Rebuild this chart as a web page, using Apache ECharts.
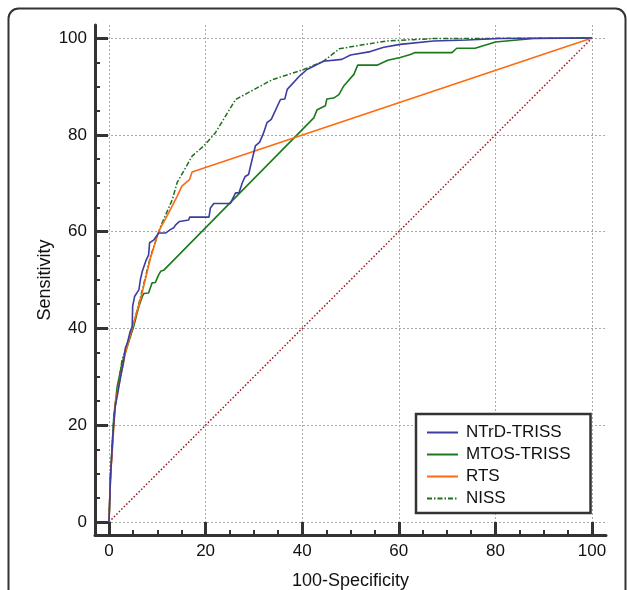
<!DOCTYPE html>
<html>
<head>
<meta charset="utf-8">
<script src="https://cdn.jsdelivr.net/npm/echarts@6/dist/echarts.min.js"></script>
<style>html,body{margin:0;padding:0;background:#fff}#c{width:627px;height:590px}</style>
</head>
<body>
<div id="c"></div>
<script>
const seriesNames = ['NTrD-TRISS', 'MTOS-TRISS', 'RTS', 'NISS'];
const majorTicks = [0, 20, 40, 60, 80, 100];
const minorTicks = [5, 10, 15, 25, 30, 35, 45, 50, 55, 65, 70, 75, 85, 90, 95];

const ntrdX = [0,0.3,0.8,1.3,1.7,2.4,3.0,3.4,3.8,4.4,4.8,4.9,5.3,6.2,6.5,6.9,7.6,8.2,8.4,9.3,10.3,11.7,12.7,13.4,13.8,14.6,16.5,16.7,20.7,21.0,21.7,25.1,26.2,26.9,27.6,28.2,28.9,29.3,30.3,31.2,32.0,32.7,33.6,35.5,36.4,36.9,39.6,41.0,44.4,48.2,50.0,54.1,56.9,60.3,67.2,74.1,81.0,100];
const ntrdY = [0,9,18,24,26,30,33,36,37,39.4,40.4,44.6,46.6,48,50.1,51.8,53.9,55.2,57.7,58.3,59.7,59.7,60.4,60.8,61.4,62.1,62.4,63.0,63.0,64.9,65.8,65.8,68.0,68.0,70.1,71.4,71.8,73.5,77.7,78.5,80.4,82.5,83.2,87.3,87.4,89.4,92.3,93.5,95.2,95.6,96.5,97.2,98.1,98.7,99.4,99.6,99.9,100];

const mtosX = [0,0.3,1.0,1.7,2.7,3.8,5.1,6.2,6.9,7.2,8.2,8.9,9.6,10.3,10.7,11.3,42.4,43.1,44.8,45.1,46.5,47.6,48.6,50.7,51.5,55.5,57.7,60.3,62.4,63.4,71.0,72.0,75.8,80.0,87.9,100];
const mtosY = [0,9,21.8,28,32.8,36.3,40.4,44.6,46.6,47.2,47.3,49.4,49.5,51.1,51.8,52.0,83.5,85.2,86.0,87.4,87.6,88.3,90.1,92.5,94.4,94.4,95.4,96.0,96.6,97.0,97.0,97.9,97.9,99.2,99.9,100];

const rtsX = [0,0.3,0.7,1.3,2.4,3.4,4.8,6.5,8.6,10.3,12.0,14.1,15.1,16.7,17.2,100];
const rtsY = [0,9.4,14.9,24.6,30.1,34.9,40.1,45.9,54.6,60.1,63.2,67.3,69.4,70.8,72.3,100];

const nissX = [0,0.3,1.0,2.7,4.8,6.9,8.6,10.7,13.1,14.1,17.2,19.6,22.0,26.2,33.8,40.3,44.4,47.7,51.9,57.5,67.2,100];
const nissY = [0,10,21.8,33.5,39.7,48,54.9,61.1,66.6,70.1,75.6,77.7,80.4,87.3,91.4,93.5,95.2,97.8,98.5,99.4,99.9,100];

const diagX = [0, 100];
const diagY = [0, 100];

function pairs(xs, ys) { return xs.map((x, i) => [x, ys[i]]); }

const FONT = '"Liberation Sans", Arial, Helvetica, sans-serif';
const AX = '#333';
const colors = {ntrd: '#3d3da0', mtos: '#1a7a1a', rts: '#ff6a10', niss: '#1d701d', diag: '#a0161a'};

const chart = echarts.init(document.getElementById('c'), null, {renderer: 'canvas'});

const xMin = -2.9, xMax = 102.9, yMin = -2.7, yMax = 102.7;

chart.setOption({
  animation: false,
  backgroundColor: '#fff',
  textStyle: {fontFamily: FONT},
  graphic: [{
    type: 'rect', left: 6, top: 6, z: -10, silent: true,
    shape: {width: 617, height: 700, r: 10},
    style: {fill: 'none', stroke: '#333', lineWidth: 2}
  }],
  grid: {left: 95, right: 21, top: 25, bottom: 55, containLabel: false, outerBoundsMode: 'none'},
  xAxis: [{
    type: 'value', min: xMin, max: xMax, position: 'bottom',
    name: '100-Specificity', nameLocation: 'middle', nameGap: 37, nameMoveOverlap: false,
    nameTextStyle: {fontSize: 18, color: '#111', fontFamily: FONT},
    axisLine: {show: true, onZero: false, lineStyle: {color: AX, width: 3}},
    axisTick: {show: true, inside: true, length: 13, customValues: majorTicks, lineStyle: {color: AX, width: 3}},
    axisLabel: {show: true, customValues: majorTicks, margin: 8, fontSize: 17, color: '#111', fontFamily: FONT},
    splitLine: {show: true, lineStyle: {color: '#aaa', width: 1, type: [2, 2]}}
  }, {
    type: 'value', min: xMin, max: xMax, position: 'bottom',
    axisLine: {show: false, onZero: false},
    axisTick: {show: true, inside: true, length: 5, customValues: minorTicks, lineStyle: {color: AX, width: 2}},
    axisLabel: {show: false},
    splitLine: {show: false}
  }],
  yAxis: [{
    type: 'value', min: yMin, max: yMax, position: 'left',
    name: 'Sensitivity', nameLocation: 'middle', nameGap: 41, nameRotate: 90, nameMoveOverlap: false,
    nameTextStyle: {fontSize: 18, color: '#111', fontFamily: FONT},
    axisLine: {show: true, onZero: false, lineStyle: {color: AX, width: 3}},
    axisTick: {show: true, inside: true, length: 13, customValues: majorTicks, lineStyle: {color: AX, width: 3}},
    axisLabel: {show: true, customValues: majorTicks, margin: 8, fontSize: 17, color: '#111', fontFamily: FONT},
    splitLine: {show: true, lineStyle: {color: '#aaa', width: 1, type: [2, 2]}}
  }, {
    type: 'value', min: yMin, max: yMax, position: 'left',
    axisLine: {show: false, onZero: false},
    axisTick: {show: true, inside: true, length: 5, customValues: minorTicks, lineStyle: {color: AX, width: 2}},
    axisLabel: {show: false},
    splitLine: {show: false}
  }],
  legend: {
    orient: 'vertical', left: 416, top: 414,
    data: seriesNames,
    backgroundColor: '#fff', borderColor: '#333', borderWidth: 2.5,
    padding: [10, 20, 6, 10],
    itemWidth: 31, itemHeight: 14, itemGap: 5,
    itemStyle: {opacity: 0},
    textStyle: {fontSize: 17, color: '#111', fontFamily: FONT, padding: [0, 0, 0, 3]}
  },
  series: [
    {name: 'Diagonal', type: 'line', symbol: 'none', clip: false, z: 1, color: colors.diag,
     data: pairs(diagX, diagY), lineStyle: {color: colors.diag, width: 1.5, type: [1.5, 2]}},
    {name: seriesNames[3], type: 'line', symbol: 'none', clip: false, z: 2, color: colors.niss,
     data: pairs(nissX, nissY), lineStyle: {color: colors.niss, width: 1.5, type: [5, 2, 1.5, 2]}},
    {name: seriesNames[1], type: 'line', symbol: 'none', clip: false, z: 3, color: colors.mtos,
     data: pairs(mtosX, mtosY), lineStyle: {color: colors.mtos, width: 1.6}},
    {name: seriesNames[2], type: 'line', symbol: 'none', clip: false, z: 4, color: colors.rts,
     data: pairs(rtsX, rtsY), lineStyle: {color: colors.rts, width: 1.6}},
    {name: seriesNames[0], type: 'line', symbol: 'none', clip: false, z: 5, color: colors.ntrd,
     data: pairs(ntrdX, ntrdY), lineStyle: {color: colors.ntrd, width: 1.6}}
  ]
});
</script>
</body>
</html>
